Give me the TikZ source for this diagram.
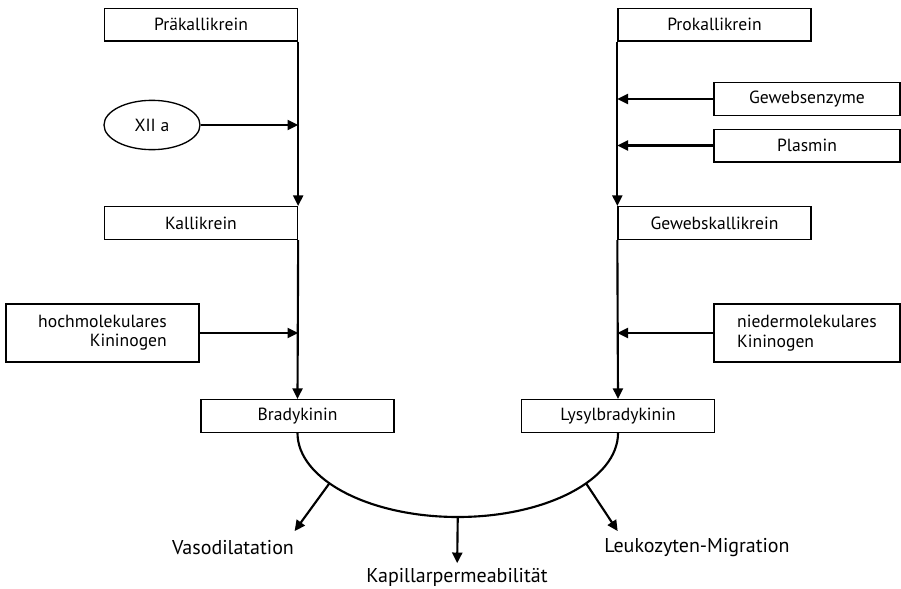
\documentclass[tikz,border=0pt]{standalone}
\usepackage{fontspec}
\setmainfont{PT Sans}
\usetikzlibrary{arrows.meta,calc,shapes.geometric}

\tikzset{box/.style = {draw, line width=1pt, minimum width=144.75pt, minimum height=24.5pt,
                       inner sep=0pt, font=\fontsize{13.2}{14.5}\selectfont},
         sidebox/.style = {box, minimum width=139.5pt},
         flow/.style = {line width=1.6pt, -{Triangle[length=8pt,width=7.5pt]}},
         effect/.style = {font=\fontsize{15}{17}\selectfont}
        }

\begin{document}
\begin{tikzpicture}[x=0.75pt,y=-0.75pt]
\useasboundingbox (0,0) rectangle (901,589);
\node[box] at (201,24.5) (praek) {Präkallikrein};
\node[draw, ellipse, line width=1pt, minimum width=72pt, minimum height=37pt, inner sep=0pt,
      font=\fontsize{13.2}{14.5}\selectfont] at (152,125) (xiia) {XII a};
\node[box] at (201,223) (kall) {Kallikrein};
\node[box, minimum height=43.5pt, align=right] at (102.5,333) (hmk) {hochmolekulares\\Kininogen};
\node[box] at (297.5,416) (brady) {Bradykinin};
\node[box] at (714.5,24.5) (prok) {Prokallikrein};
\node[sidebox] at (807,99) (gewenz) {Gewebsenzyme};
\node[sidebox] at (807,145.5) (plasmin) {Plasmin};
\node[box] at (714.5,223) (gewkall) {Gewebskallikrein};
\node[sidebox, minimum height=43.5pt, align=left] at (807,333) (nmk) {niedermolekulares\\Kininogen};
\node[box] at (618,416) (lysyl) {Lysylbradykinin};
\draw[flow] (praek.south east) -- (kall.north east);
\draw[flow] (xiia) -- (xiia -| praek.south east);
\draw[flow] (kall.south east) -- (brady.north);
\draw[flow] (hmk) -- (hmk -| kall.south east);
\draw[flow] (prok.south west) -- (gewkall.north west);
\draw[flow] (gewenz) -- (gewenz -| prok.south west);
\draw[flow] (plasmin) -- (plasmin -| prok.south west);
\draw[flow] (gewkall.south west) -- (lysyl.north);
\draw[flow] (nmk) -- (nmk -| gewkall.south west);
% Wirkungen
\draw[line width=1.6pt] (brady.south) arc[start angle=180, end angle=360, x radius=120.2pt, y radius=63pt];
\coordinate (mitte) at ($(brady.south)!0.5!(lysyl.south)$);
\coordinate (links) at ($(mitte)+(216.8:120.2pt and 63pt)$);
\coordinate (unten) at ($(mitte)+(270:120.2pt and 63pt)$);
\coordinate (rechts) at ($(mitte)+(323.2:120.2pt and 63pt)$);
\node[effect] at (233,548) (vaso) {Vasodilatation};
\node[effect] at (457,577) (kapill) {Kapillarpermeabilität};
\node[effect] at (697,548) (leuko) {Leukozyten-Migration};
\coordinate (vtip) at ($(vaso.north east)+(-4,-5)$);
\coordinate (ltip) at ($(leuko.north west)+(18,-3)$);
\draw[flow] (links) -- (vtip);
\draw[flow] (unten) -- (kapill);
\draw[flow] (rechts) -- (ltip);
\end{tikzpicture}
\end{document}
